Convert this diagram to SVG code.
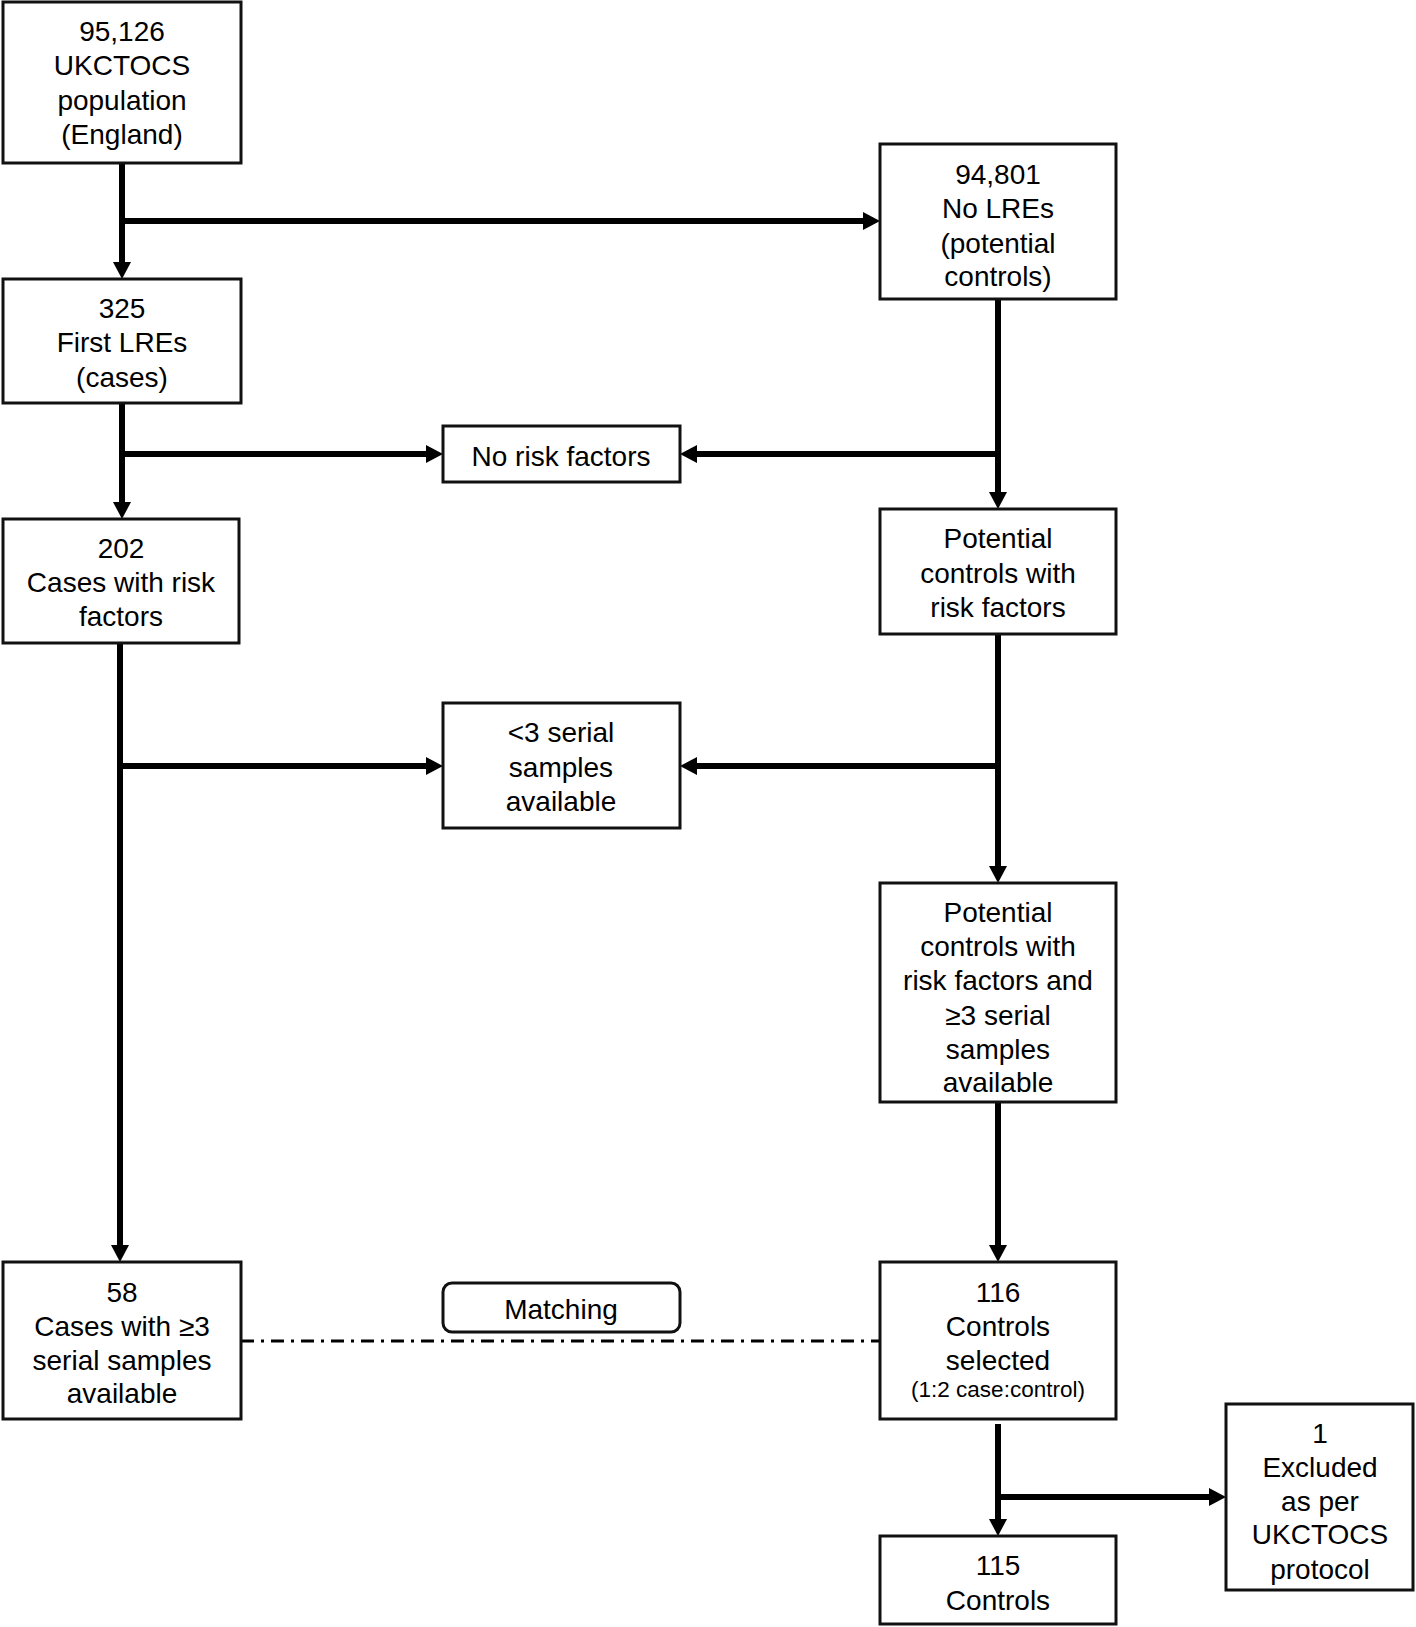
<svg xmlns="http://www.w3.org/2000/svg" width="1416" height="1627" viewBox="0 0 1416 1627">
<defs>
<style>
.box{fill:#fff;stroke:#111;stroke-width:3}
.t{font-family:"Liberation Sans",Arial,sans-serif;font-size:28px;fill:#000;text-anchor:middle}
.s{font-size:22.5px}
.c{fill:none;stroke:#000;stroke-width:6}
.a{marker-end:url(#ah)}
.dd{fill:none;stroke:#000;stroke-width:3;stroke-dasharray:13 7 3 7}
</style>
<marker id="ah" markerUnits="userSpaceOnUse" markerWidth="17" markerHeight="18" viewBox="0 0 17 18" refX="7" refY="9" orient="auto">
<path d="M0,0 L17,9 L0,18 z" fill="#000"/>
</marker>
</defs>
<rect width="1416" height="1627" fill="#fff"/>
<g id="connectors">
<path class="c a" d="M122,163 V269"/>
<path class="c a" d="M122,221 H870"/>
<path class="c a" d="M122,403 V509"/>
<path class="c a" d="M122,454 H433"/>
<path class="c a" d="M998,454 H690"/>
<path class="c a" d="M998,299 V499"/>
<path class="c a" d="M120,643 V1252"/>
<path class="c a" d="M120,766 H433"/>
<path class="c a" d="M998,634 V873"/>
<path class="c a" d="M998,766 H690"/>
<path class="c a" d="M998,1102 V1252"/>
<path class="dd" d="M241,1341 H880"/>
<path class="c a" d="M998,1424 V1526"/>
<path class="c a" d="M998,1497 H1216"/>
</g>
<g id="n1">
<rect class="box" x="3" y="2" width="238" height="161"/>
<text class="t"><tspan x="122" y="41">95,126</tspan><tspan x="122" y="75">UKCTOCS</tspan><tspan x="122" y="110">population</tspan><tspan x="122" y="144">(England)</tspan></text>
</g>
<g id="n2">
<rect class="box" x="880" y="144" width="236" height="155"/>
<text class="t"><tspan x="998" y="184">94,801</tspan><tspan x="998" y="218">No LREs</tspan><tspan x="998" y="253">(potential</tspan><tspan x="998" y="286">controls)</tspan></text>
</g>
<g id="n3">
<rect class="box" x="3" y="279" width="238" height="124"/>
<text class="t"><tspan x="122" y="318">325</tspan><tspan x="122" y="352">First LREs</tspan><tspan x="122" y="387">(cases)</tspan></text>
</g>
<g id="n4">
<rect class="box" x="443" y="426" width="237" height="56"/>
<text class="t" x="561" y="466">No risk factors</text>
</g>
<g id="n5">
<rect class="box" x="3" y="519" width="236" height="124"/>
<text class="t"><tspan x="121" y="558">202</tspan><tspan x="121" y="592">Cases with risk</tspan><tspan x="121" y="626">factors</tspan></text>
</g>
<g id="n6">
<rect class="box" x="880" y="509" width="236" height="125"/>
<text class="t"><tspan x="998" y="548">Potential</tspan><tspan x="998" y="583">controls with</tspan><tspan x="998" y="617">risk factors</tspan></text>
</g>
<g id="n7">
<rect class="box" x="443" y="703" width="237" height="125"/>
<text class="t"><tspan x="561" y="742">&lt;3 serial</tspan><tspan x="561" y="777">samples</tspan><tspan x="561" y="811">available</tspan></text>
</g>
<g id="n8">
<rect class="box" x="880" y="883" width="236" height="219"/>
<text class="t"><tspan x="998" y="922">Potential</tspan><tspan x="998" y="956">controls with</tspan><tspan x="998" y="990">risk factors and</tspan><tspan x="998" y="1025">≥3 serial</tspan><tspan x="998" y="1059">samples</tspan><tspan x="998" y="1092">available</tspan></text>
</g>
<g id="n9">
<rect class="box" x="3" y="1262" width="238" height="157"/>
<text class="t"><tspan x="122" y="1302">58</tspan><tspan x="122" y="1336">Cases with ≥3</tspan><tspan x="122" y="1370">serial samples</tspan><tspan x="122" y="1403">available</tspan></text>
</g>
<g id="n10">
<rect class="box" x="443" y="1283" width="237" height="49" rx="9"/>
<text class="t" x="561" y="1319">Matching</text>
</g>
<g id="n11">
<rect class="box" x="880" y="1262" width="236" height="157"/>
<text class="t"><tspan x="998" y="1302">116</tspan><tspan x="998" y="1336">Controls</tspan><tspan x="998" y="1370">selected</tspan><tspan class="s" x="998" y="1397">(1:2 case:control)</tspan></text>
</g>
<g id="n12">
<rect class="box" x="1226" y="1404" width="187" height="186"/>
<text class="t"><tspan x="1320" y="1443">1</tspan><tspan x="1320" y="1477">Excluded</tspan><tspan x="1320" y="1511">as per</tspan><tspan x="1320" y="1544">UKCTOCS</tspan><tspan x="1320" y="1579">protocol</tspan></text>
</g>
<g id="n13">
<rect class="box" x="880" y="1536" width="236" height="88"/>
<text class="t"><tspan x="998" y="1575">115</tspan><tspan x="998" y="1610">Controls</tspan></text>
</g>
</svg>
